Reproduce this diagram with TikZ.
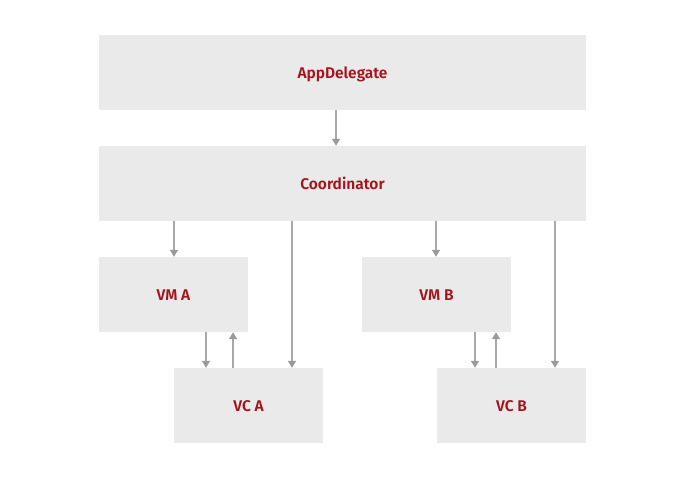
\documentclass[tikz,border=0pt]{standalone}
\usepackage{fontspec}
\setmainfont{Fira Sans}
\newfontfamily\labelfont{Fira Sans SemiBold}
\usetikzlibrary{arrows.meta}
\definecolor{boxfill}{HTML}{EAEAEA}
\definecolor{labelred}{HTML}{A3141C}
\definecolor{linegray}{HTML}{A8A8A8}
\definecolor{headgray}{HTML}{9A9A9A}
\begin{document}
\begin{tikzpicture}[x=1pt,y=-1pt,
  blockbox/.style={fill=boxfill,draw=none,minimum height=75pt,inner sep=0pt,
    text height=12.5pt,text depth=0pt,
    font=\labelfont\fontsize{15.5}{18}\selectfont,text=labelred},
  wide/.style={blockbox,minimum width=487pt},
  small/.style={blockbox,minimum width=149pt},
  conn/.style={draw=linegray,line width=1.3pt,-{Triangle[length=7pt,width=8pt,fill=headgray,color=headgray]}}]
\useasboundingbox (0,0) rectangle (679,479);
\node[wide] (app) at (342.5,72.5) {AppDelegate};
\node[wide] (coord) at (342.5,183.5) {Coordinator};
\node[small] (vma) at (173.5,294.5) {VM A};
\node[small] (vmb) at (436.5,294.5) {VM B};
\node[small] (vca) at (248.5,405.5) {VC A};
\node[small] (vcb) at (511.5,405.5) {VC B};
\draw[conn] (app.south -| 336,0) -- (coord.north -| 336,0);
\draw[conn] (coord.south -| 174,0) -- (vma.north -| 174,0);
\draw[conn] (coord.south -| 292,0) -- (vca.north -| 292,0);
\draw[conn] (vma.south -| 206,0) -- (vca.north -| 206,0);
\draw[conn] (vca.north -| 233,0) -- (vma.south -| 233,0);
\draw[conn] (coord.south -| 436,0) -- (vmb.north -| 436,0);
\draw[conn] (coord.south -| 555,0) -- (vcb.north -| 555,0);
\draw[conn] (vmb.south -| 475,0) -- (vcb.north -| 475,0);
\draw[conn] (vcb.north -| 496,0) -- (vmb.south -| 496,0);
\end{tikzpicture}
\end{document}
